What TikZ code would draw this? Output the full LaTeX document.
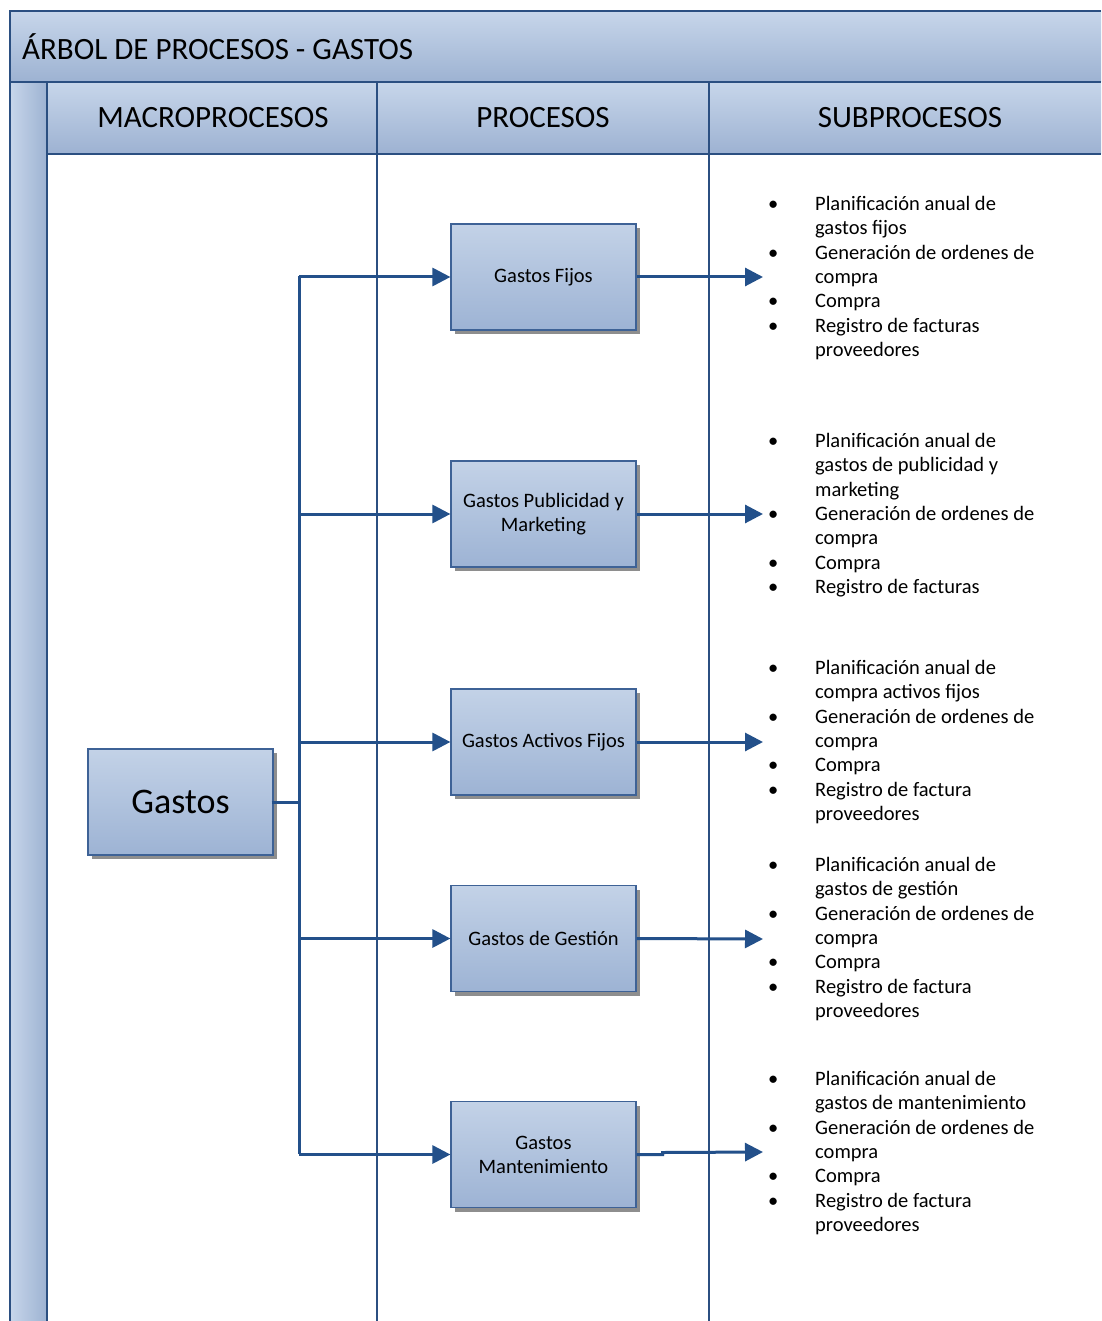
\documentclass[tikz,border=0pt]{standalone}
\usepackage{fontspec}
\setmainfont{Carlito}
\usetikzlibrary{arrows.meta,shadows}
\definecolor{frameblue}{HTML}{2B4F81}
\definecolor{bandtop}{HTML}{C7D6EA}
\definecolor{bandbot}{HTML}{9DB2D2}
\definecolor{boxtop}{HTML}{C3D2E7}
\definecolor{boxbot}{HTML}{9DB3D4}
\definecolor{boxedge}{HTML}{3E6296}
\definecolor{linkblue}{HTML}{23508A}
\definecolor{shadowgray}{HTML}{8E8E8E}
\begin{document}
\begin{tikzpicture}[x=1pt,y=-1pt,
  frame/.style={draw=frameblue,line width=2.2pt},
  procbox/.style={draw=boxedge,line width=1.2pt,top color=boxtop,bottom color=boxbot,
    minimum width=185pt,minimum height=106pt,inner sep=2pt,align=center,
    font=\fontsize{20.5}{24}\selectfont,
    drop shadow={shadow xshift=4pt,shadow yshift=-4pt,fill=shadowgray,opacity=1}},
  link/.style={draw=linkblue,line width=3pt},
  arr/.style={link,-{Triangle[length=18pt,width=18pt]}},
  headtext/.style={inner sep=0pt,font=\fontsize{31}{36}\selectfont},
  sublist/.style={anchor=north west,inner sep=0pt,font=\fontsize{20.5}{24.4}\selectfont}]
\useasboundingbox (0,0) rectangle (1101,1321);
\fill[white] (0,0) rectangle (1101,1321);

% title band, column headers and left strip
\shade[top color=bandtop,bottom color=bandbot] (10,11) rectangle (1101,82);
\shade[top color=bandtop,bottom color=bandbot] (47,82) rectangle (1101,154);
\shade[left color=bandtop,right color=bandbot] (10,82) rectangle (47,1321);
\draw[frame] (10,1321) -- (10,11) -- (1101,11);
\draw[frame] (10,82) -- (1101,82);
\draw[frame] (47,154) -- (1101,154);
\draw[frame] (47,82) -- (47,1321);
\draw[frame] (377,82) -- (377,1321);
\draw[frame] (709,82) -- (709,1321);

\node[headtext,anchor=west] (title) at (22,47) {ÁRBOL DE PROCESOS - GASTOS};
\node[headtext] (hmacro) at (213,118) {MACROPROCESOS};
\node[headtext] (hproc) at (543,118) {PROCESOS};
\node[headtext] (hsub) at (910,118) {SUBPROCESOS};

% macro process
\node[procbox,font=\fontsize{36}{40}\selectfont] (gastos) at (180.5,802) {Gastos};

% processes
\node[procbox] (p1) at (543.5,277) {Gastos Fijos};
\node[procbox] (p2) at (543.5,514) {Gastos Publicidad y\\Marketing};
\node[procbox] (p3) at (543.5,742) {Gastos Activos Fijos};
\node[procbox] (p4) at (543.5,938.5) {Gastos de Gestión};
\node[procbox] (p5) at (543.5,1154.5) {Gastos\\Mantenimiento};

% trunk and branches
\coordinate (ttop) at (299,276);
\coordinate (tbot) at (299,1154);
\draw[link] (ttop) -- (tbot);
\draw[link] ([xshift=-2pt]gastos.east) -- (gastos.east -| ttop);
\foreach \i in {1,...,5}{
  \draw[arr] (p\i.west -| ttop) -- (p\i.west);
}

% outputs towards the subprocess lists
\coordinate (e1) at (763,277);
\coordinate (e2) at (763,514);
\coordinate (e3) at (763,742);
\coordinate (e4) at (763,939);
\coordinate (e5) at (763,1152);
\foreach \i in {1,...,4}{
  \draw[arr] (p\i.east) -- (e\i);
}
\draw[arr] (p5.east) -- ++(26,0) -- ++(0,-2) -- (e5);

% subprocess lists
\node[sublist] (s1) at (768,193) {\begin{tabular}{@{}p{47pt}@{}l@{}}
\textbullet & Planificación anual de\\
 & gastos fijos\\
\textbullet & Generación de ordenes de\\
 & compra\\
\textbullet & Compra\\
\textbullet & Registro de facturas\\
 & proveedores
\end{tabular}};
\node[sublist] (s2) at (768,430) {\begin{tabular}{@{}p{47pt}@{}l@{}}
\textbullet & Planificación anual de\\
 & gastos de publicidad y\\
 & marketing\\
\textbullet & Generación de ordenes de\\
 & compra\\
\textbullet & Compra\\
\textbullet & Registro de facturas
\end{tabular}};
\node[sublist] (s3) at (768,657) {\begin{tabular}{@{}p{47pt}@{}l@{}}
\textbullet & Planificación anual de\\
 & compra activos fijos\\
\textbullet & Generación de ordenes de\\
 & compra\\
\textbullet & Compra\\
\textbullet & Registro de factura\\
 & proveedores
\end{tabular}};
\node[sublist] (s4) at (768,854) {\begin{tabular}{@{}p{47pt}@{}l@{}}
\textbullet & Planificación anual de\\
 & gastos de gestión\\
\textbullet & Generación de ordenes de\\
 & compra\\
\textbullet & Compra\\
\textbullet & Registro de factura\\
 & proveedores
\end{tabular}};
\node[sublist] (s5) at (768,1068) {\begin{tabular}{@{}p{47pt}@{}l@{}}
\textbullet & Planificación anual de\\
 & gastos de mantenimiento\\
\textbullet & Generación de ordenes de\\
 & compra\\
\textbullet & Compra\\
\textbullet & Registro de factura\\
 & proveedores
\end{tabular}};
\end{tikzpicture}
\end{document}
